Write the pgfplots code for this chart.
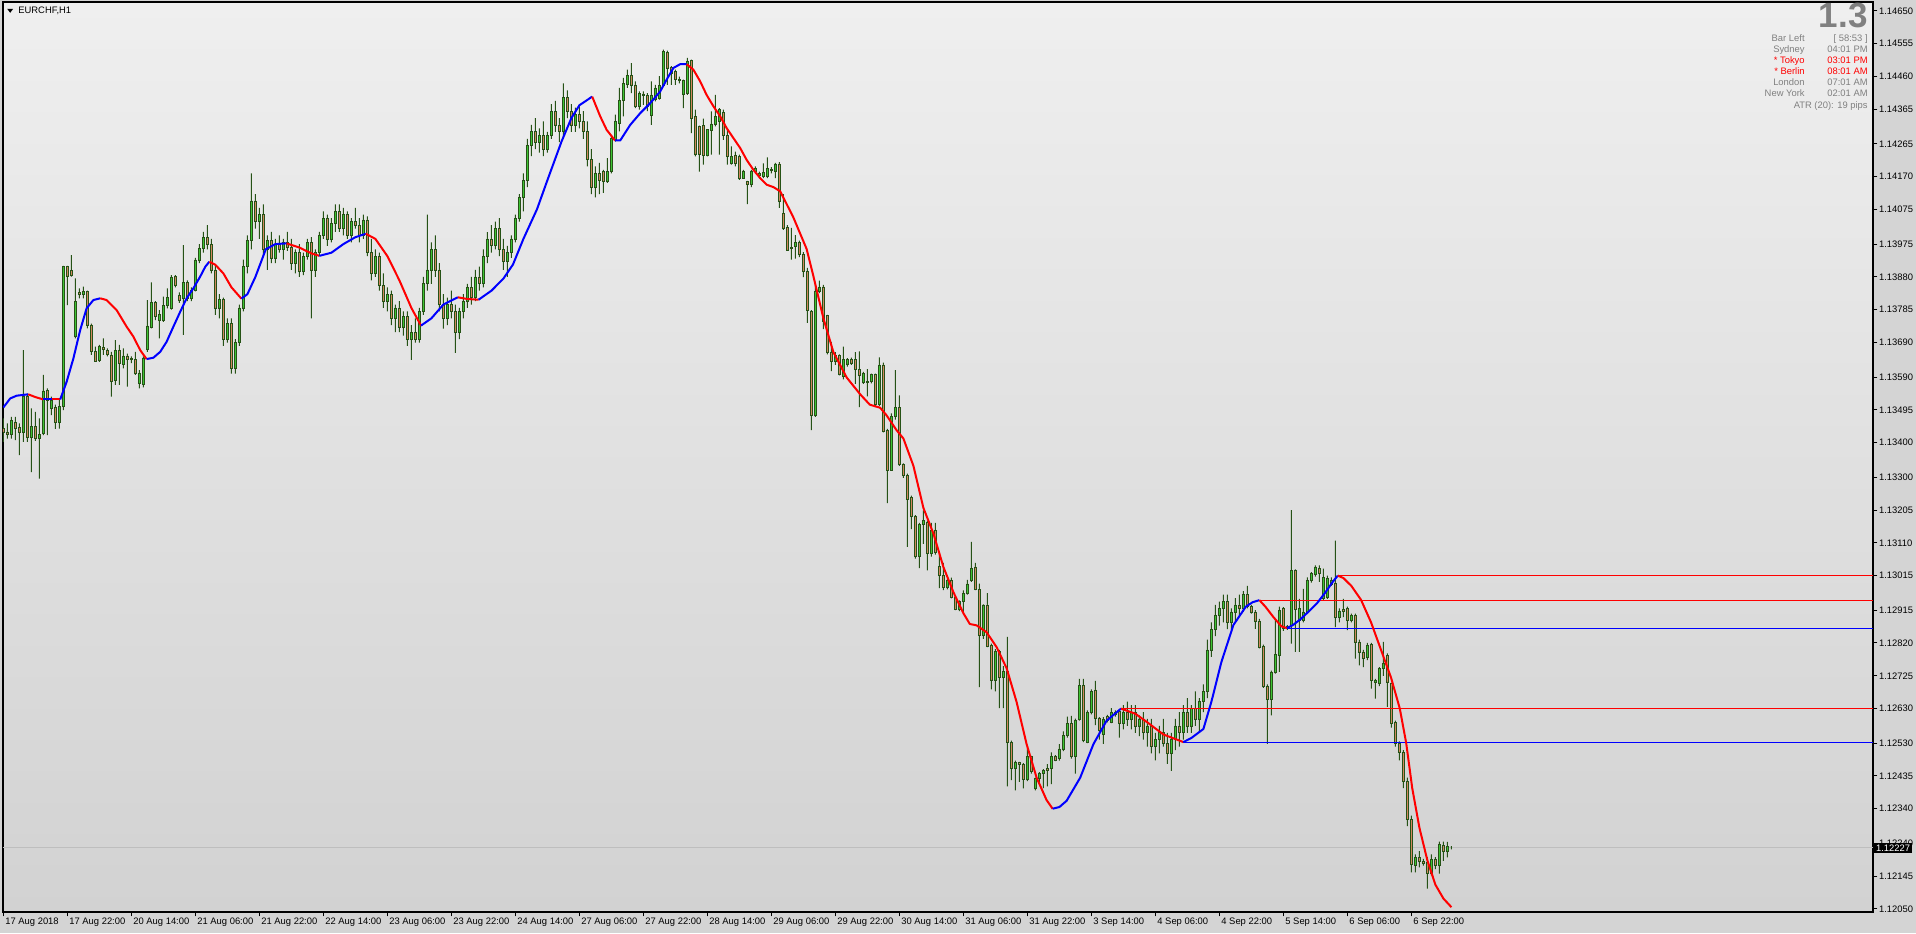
\documentclass[border=0pt]{standalone}
\usepackage{fontspec}
\setmainfont{Liberation Sans}
\usepackage{pgfplots}
\usepackage{pgfplotstable}
\pgfplotsset{compat=1.18}
\usetikzlibrary{shadings}
\definecolor{wick}{RGB}{38,82,22}
\definecolor{bull}{RGB}{62,196,52}
\definecolor{bear}{RGB}{210,135,95}
\definecolor{bgc}{RGB}{212,212,212}
\definecolor{mared}{RGB}{255,0,0}
\definecolor{mablue}{RGB}{0,0,255}
\definecolor{infogray}{RGB}{128,128,128}
\newcommand{\tf}{\fontsize{4.7}{5.6}\selectfont}

\pgfplotstableread{
i o h l c
0 1.13441 1.13470 1.13402 1.13431
1 1.13431 1.13456 1.13412 1.13424
2 1.13424 1.13475 1.13412 1.13465
3 1.13460 1.13475 1.13407 1.13441
4 1.13443 1.13456 1.13364 1.13429
5 1.13431 1.13668 1.13402 1.13533
6 1.13533 1.13542 1.13402 1.13415
7 1.13415 1.13499 1.13315 1.13446
8 1.13446 1.13489 1.13405 1.13412
9 1.13412 1.13470 1.13296 1.13425
10 1.13427 1.13596 1.13422 1.13550
11 1.13552 1.13557 1.13422 1.13523
12 1.13499 1.13533 1.13480 1.13523
13 1.13502 1.13510 1.13440 1.13458
14 1.13458 1.13528 1.13441 1.13504
15 1.13504 1.13912 1.13494 1.13910
16 1.13910 1.13912 1.13798 1.13883
17 1.13898 1.13943 1.13881 1.13885
18 1.13707 1.13876 1.13702 1.13810
19 1.13835 1.13847 1.13818 1.13829
20 1.13829 1.13852 1.13818 1.13837
21 1.13837 1.13840 1.13731 1.13741
22 1.13741 1.13745 1.13654 1.13665
23 1.13663 1.13678 1.13634 1.13636
24 1.13639 1.13683 1.13634 1.13678
25 1.13677 1.13702 1.13654 1.13671
26 1.13668 1.13673 1.13650 1.13656
27 1.13654 1.13663 1.13533 1.13578
28 1.13581 1.13697 1.13567 1.13668
29 1.13668 1.13683 1.13567 1.13629
30 1.13627 1.13673 1.13615 1.13651
31 1.13651 1.13658 1.13562 1.13642
32 1.13645 1.13650 1.13630 1.13641
33 1.13642 1.13663 1.13596 1.13600
34 1.13571 1.13610 1.13557 1.13602
35 1.13569 1.13650 1.13560 1.13644
36 1.13670 1.13813 1.13663 1.13738
37 1.13734 1.13864 1.13731 1.13805
38 1.13805 1.13810 1.13755 1.13765
39 1.13755 1.13784 1.13702 1.13771
40 1.13755 1.13823 1.13750 1.13798
41 1.13798 1.13847 1.13789 1.13820
42 1.13789 1.13885 1.13785 1.13878
43 1.13881 1.13885 1.13850 1.13856
44 1.13827 1.13835 1.13805 1.13811
45 1.13818 1.13972 1.13712 1.13864
46 1.13864 1.13870 1.13810 1.13818
47 1.13818 1.13850 1.13810 1.13842
48 1.13842 1.13935 1.13838 1.13929
49 1.13929 1.13975 1.13920 1.13963
50 1.13963 1.14010 1.13950 1.13995
51 1.13995 1.14030 1.13960 1.13975
52 1.13975 1.13990 1.13890 1.13900
53 1.13900 1.13915 1.13770 1.13790
54 1.13790 1.13830 1.13760 1.13815
55 1.13815 1.13820 1.13680 1.13700
56 1.13700 1.13760 1.13690 1.13745
57 1.13745 1.13760 1.13600 1.13615
58 1.13615 1.13700 1.13600 1.13690
59 1.13690 1.13800 1.13680 1.13790
60 1.13790 1.13930 1.13780 1.13910
61 1.13910 1.14000 1.13890 1.13985
62 1.13985 1.14180 1.13960 1.14100
63 1.14100 1.14120 1.14020 1.14040
64 1.14040 1.14080 1.13990 1.14060
65 1.14060 1.14090 1.13940 1.13960
66 1.13960 1.14000 1.13900 1.13985
67 1.13985 1.14010 1.13920 1.13935
68 1.13935 1.13990 1.13920 1.13975
69 1.13975 1.14000 1.13950 1.13960
70 1.13960 1.13990 1.13930 1.13980
71 1.13980 1.14010 1.13955 1.13965
72 1.13965 1.13990 1.13900 1.13920
73 1.13920 1.13960 1.13890 1.13950
74 1.13950 1.13975 1.13880 1.13895
75 1.13895 1.13950 1.13885 1.13940
76 1.13940 1.13990 1.13930 1.13980
77 1.13980 1.13995 1.13760 1.13900
78 1.13900 1.13960 1.13880 1.13950
79 1.13950 1.14010 1.13940 1.14000
80 1.14000 1.14070 1.13990 1.14050
81 1.14050 1.14060 1.13970 1.13990
82 1.13990 1.14050 1.13980 1.14035
83 1.14035 1.14090 1.14010 1.14070
84 1.14070 1.14090 1.14010 1.14020
85 1.14020 1.14080 1.14000 1.14060
86 1.14060 1.14070 1.13990 1.14000
87 1.14000 1.14050 1.13980 1.14040
88 1.14040 1.14080 1.14020 1.14030
89 1.14030 1.14050 1.13980 1.14000
90 1.14000 1.14060 1.13990 1.14045
91 1.14045 1.14055 1.13940 1.13950
92 1.13950 1.13990 1.13870 1.13890
93 1.13890 1.13960 1.13880 1.13940
94 1.13940 1.13950 1.13840 1.13855
95 1.13855 1.13890 1.13790 1.13810
96 1.13810 1.13850 1.13780 1.13830
97 1.13830 1.13840 1.13740 1.13760
98 1.13760 1.13800 1.13720 1.13790
99 1.13790 1.13810 1.13720 1.13735
100 1.13735 1.13780 1.13710 1.13765
101 1.13765 1.13780 1.13680 1.13700
102 1.13700 1.13740 1.13640 1.13720
103 1.13720 1.13760 1.13690 1.13700
104 1.13700 1.13790 1.13690 1.13780
105 1.13780 1.13880 1.13770 1.13860
106 1.13860 1.14060 1.13840 1.13900
107 1.13900 1.13980 1.13860 1.13960
108 1.13960 1.14000 1.13880 1.13900
109 1.13900 1.13920 1.13780 1.13800
110 1.13800 1.13830 1.13730 1.13760
111 1.13760 1.13820 1.13740 1.13800
112 1.13800 1.13840 1.13760 1.13780
113 1.13780 1.13800 1.13660 1.13720
114 1.13720 1.13790 1.13700 1.13780
115 1.13780 1.13830 1.13760 1.13810
116 1.13810 1.13860 1.13790 1.13850
117 1.13850 1.13880 1.13800 1.13820
118 1.13820 1.13900 1.13810 1.13880
119 1.13880 1.13910 1.13840 1.13860
120 1.13860 1.13960 1.13850 1.13940
121 1.13940 1.14010 1.13920 1.13990
122 1.13990 1.14030 1.13950 1.13970
123 1.13970 1.14040 1.13960 1.14020
124 1.14020 1.14050 1.13940 1.13960
125 1.13960 1.13990 1.13900 1.13925
126 1.13925 1.13970 1.13880 1.13950
127 1.13950 1.14000 1.13935 1.13990
128 1.13990 1.14060 1.13980 1.14050
129 1.14050 1.14120 1.14040 1.14110
130 1.14110 1.14180 1.14070 1.14160
131 1.14160 1.14280 1.14140 1.14260
132 1.14260 1.14320 1.14230 1.14300
133 1.14300 1.14340 1.14250 1.14270
134 1.14270 1.14310 1.14240 1.14290
135 1.14290 1.14330 1.14230 1.14250
136 1.14250 1.14300 1.14240 1.14290
137 1.14290 1.14380 1.14280 1.14360
138 1.14360 1.14390 1.14300 1.14320
139 1.14320 1.14340 1.14270 1.14300
140 1.14300 1.14440 1.14280 1.14400
141 1.14400 1.14420 1.14340 1.14360
142 1.14360 1.14380 1.14300 1.14320
143 1.14320 1.14370 1.14300 1.14350
144 1.14350 1.14380 1.14310 1.14330
145 1.14330 1.14360 1.14280 1.14300
146 1.14300 1.14330 1.14200 1.14220
147 1.14220 1.14250 1.14120 1.14140
148 1.14140 1.14200 1.14110 1.14180
149 1.14180 1.14210 1.14120 1.14160
150 1.14185 1.14190 1.14123 1.14156
151 1.14156 1.14224 1.14152 1.14185
152 1.14187 1.14287 1.14180 1.14282
153 1.14277 1.14350 1.14272 1.14330
154 1.14325 1.14427 1.14301 1.14390
155 1.14390 1.14456 1.14345 1.14441
156 1.14438 1.14480 1.14427 1.14463
157 1.14463 1.14499 1.14412 1.14436
158 1.14436 1.14446 1.14369 1.14374
159 1.14374 1.14417 1.14364 1.14412
160 1.14410 1.14417 1.14378 1.14407
161 1.14405 1.14412 1.14360 1.14374
162 1.14348 1.14446 1.14320 1.14407
163 1.14393 1.14436 1.14388 1.14427
164 1.14398 1.14461 1.14393 1.14434
165 1.14436 1.14538 1.14432 1.14533
166 1.14530 1.14535 1.14436 1.14485
167 1.14487 1.14490 1.14436 1.14470
168 1.14475 1.14480 1.14436 1.14451
169 1.14453 1.14460 1.14440 1.14448
170 1.14410 1.14451 1.14369 1.14448
171 1.14412 1.14514 1.14407 1.14504
172 1.14506 1.14509 1.14296 1.14340
173 1.14345 1.14364 1.14229 1.14236
174 1.14316 1.14318 1.14185 1.14236
175 1.14318 1.14338 1.14205 1.14231
176 1.14231 1.14308 1.14229 1.14306
177 1.14303 1.14359 1.14234 1.14323
178 1.14323 1.14407 1.14316 1.14345
179 1.14330 1.14369 1.14234 1.14364
180 1.14356 1.14364 1.14277 1.14289
181 1.14289 1.14306 1.14205 1.14229
182 1.14209 1.14258 1.14205 1.14229
183 1.14232 1.14243 1.14200 1.14209
184 1.14229 1.14234 1.14161 1.14166
185 1.14166 1.14190 1.14164 1.14187
186 1.14156 1.14158 1.14091 1.14147
187 1.14147 1.14190 1.14140 1.14185
188 1.14185 1.14200 1.14180 1.14195
189 1.14173 1.14185 1.14165 1.14180
190 1.14171 1.14209 1.14166 1.14182
191 1.14171 1.14226 1.14166 1.14195
192 1.14192 1.14198 1.14180 1.14188
193 1.14187 1.14210 1.14166 1.14207
194 1.14207 1.14212 1.14080 1.14100
195 1.14065 1.14120 1.14016 1.14022
196 1.14024 1.14030 1.13955 1.13958
197 1.13964 1.14022 1.13930 1.13966
198 1.13967 1.14001 1.13933 1.13979
199 1.13979 1.13985 1.13937 1.13945
200 1.13945 1.13952 1.13879 1.13896
201 1.13896 1.13906 1.13747 1.13784
202 1.13780 1.13784 1.13436 1.13479
203 1.13479 1.13857 1.13475 1.13839
204 1.13839 1.13869 1.13833 1.13851
205 1.13851 1.13857 1.13729 1.13751
206 1.13768 1.13770 1.13656 1.13662
207 1.13662 1.13692 1.13607 1.13635
208 1.13635 1.13662 1.13625 1.13652
209 1.13652 1.13656 1.13595 1.13599
210 1.13592 1.13678 1.13583 1.13640
211 1.13628 1.13645 1.13620 1.13640
212 1.13641 1.13646 1.13625 1.13631
213 1.13640 1.13662 1.13570 1.13613
214 1.13613 1.13664 1.13503 1.13595
215 1.13574 1.13605 1.13570 1.13601
216 1.13578 1.13613 1.13534 1.13576
217 1.13577 1.13600 1.13572 1.13597
218 1.13598 1.13600 1.13503 1.13510
219 1.13510 1.13647 1.13506 1.13625
220 1.13625 1.13632 1.13430 1.13433
221 1.13436 1.13440 1.13225 1.13320
222 1.13320 1.13485 1.13318 1.13477
223 1.13477 1.13610 1.13467 1.13503
224 1.13503 1.13537 1.13333 1.13336
225 1.13336 1.13340 1.13298 1.13306
226 1.13306 1.13310 1.13098 1.13235
227 1.13241 1.13247 1.13150 1.13186
228 1.13186 1.13190 1.13064 1.13070
229 1.13070 1.13168 1.13037 1.13164
230 1.13164 1.13204 1.13107 1.13174
231 1.13168 1.13174 1.13030 1.13079
232 1.13079 1.13168 1.13070 1.13147
233 1.13147 1.13168 1.13076 1.13083
234 1.13042 1.13076 1.12979 1.13015
235 1.13015 1.13052 1.12973 1.12981
236 1.12981 1.13005 1.12975 1.13001
237 1.13001 1.13009 1.12949 1.12952
238 1.12952 1.12955 1.12915 1.12918
239 1.12918 1.12943 1.12912 1.12940
240 1.12940 1.12972 1.12906 1.12964
241 1.12964 1.13003 1.12960 1.12991
242 1.13001 1.13113 1.12997 1.13037
243 1.13040 1.13052 1.12973 1.12976
244 1.12976 1.12992 1.12692 1.12842
245 1.12842 1.12932 1.12832 1.12930
246 1.12930 1.12964 1.12808 1.12810
247 1.12814 1.12818 1.12686 1.12713
248 1.12713 1.12802 1.12680 1.12796
249 1.12796 1.12800 1.12631 1.12720
250 1.12720 1.12753 1.12631 1.12737
251 1.12737 1.12838 1.12405 1.12533
252 1.12533 1.12537 1.12423 1.12457
253 1.12457 1.12479 1.12393 1.12473
254 1.12473 1.12476 1.12418 1.12469
255 1.12469 1.12472 1.12399 1.12426
256 1.12426 1.12515 1.12420 1.12491
257 1.12491 1.12493 1.12442 1.12448
258 1.12400 1.12430 1.12393 1.12427
259 1.12427 1.12446 1.12412 1.12442
260 1.12442 1.12455 1.12400 1.12452
261 1.12457 1.12469 1.12405 1.12452
262 1.12457 1.12503 1.12411 1.12491
263 1.12491 1.12495 1.12478 1.12481
264 1.12485 1.12527 1.12479 1.12513
265 1.12513 1.12564 1.12507 1.12552
266 1.12552 1.12607 1.12546 1.12588
267 1.12588 1.12609 1.12485 1.12491
268 1.12491 1.12601 1.12442 1.12595
269 1.12598 1.12716 1.12595 1.12696
270 1.12696 1.12716 1.12533 1.12537
271 1.12533 1.12625 1.12530 1.12619
272 1.12619 1.12686 1.12613 1.12680
273 1.12684 1.12710 1.12582 1.12603
274 1.12603 1.12605 1.12540 1.12567
275 1.12554 1.12605 1.12528 1.12598
276 1.12607 1.12612 1.12590 1.12595
277 1.12591 1.12631 1.12588 1.12619
278 1.12619 1.12625 1.12607 1.12614
279 1.12623 1.12627 1.12546 1.12588
280 1.12588 1.12640 1.12570 1.12620
281 1.12620 1.12650 1.12580 1.12600
282 1.12600 1.12640 1.12570 1.12620
283 1.12620 1.12640 1.12560 1.12580
284 1.12580 1.12610 1.12550 1.12600
285 1.12600 1.12620 1.12540 1.12560
286 1.12560 1.12600 1.12520 1.12580
287 1.12580 1.12600 1.12500 1.12520
288 1.12520 1.12560 1.12480 1.12540
289 1.12540 1.12580 1.12500 1.12560
290 1.12560 1.12600 1.12520 1.12530
291 1.12530 1.12560 1.12470 1.12500
292 1.12500 1.12560 1.12450 1.12540
293 1.12540 1.12600 1.12510 1.12580
294 1.12580 1.12620 1.12520 1.12560
295 1.12560 1.12640 1.12540 1.12620
296 1.12620 1.12660 1.12560 1.12580
297 1.12580 1.12640 1.12560 1.12630
298 1.12630 1.12680 1.12580 1.12600
299 1.12600 1.12660 1.12560 1.12650
300 1.12650 1.12700 1.12620 1.12680
301 1.12680 1.12830 1.12660 1.12800
302 1.12800 1.12880 1.12780 1.12860
303 1.12860 1.12930 1.12840 1.12900
304 1.12900 1.12940 1.12870 1.12920
305 1.12920 1.12960 1.12880 1.12940
306 1.12940 1.12960 1.12860 1.12880
307 1.12880 1.12920 1.12860 1.12910
308 1.12910 1.12950 1.12880 1.12930
309 1.12930 1.12960 1.12900 1.12920
310 1.12920 1.12970 1.12910 1.12960
311 1.12960 1.12985 1.12920 1.12925
312 1.12925 1.12930 1.12905 1.12910
313 1.12910 1.12915 1.12861 1.12884
314 1.12884 1.12890 1.12804 1.12807
315 1.12809 1.12815 1.12690 1.12693
316 1.12693 1.12700 1.12528 1.12657
317 1.12657 1.12740 1.12610 1.12736
318 1.12734 1.12890 1.12731 1.12787
319 1.12784 1.12925 1.12736 1.12915
320 1.12919 1.12924 1.12855 1.12863
321 1.12863 1.12872 1.12858 1.12868
322 1.12871 1.13205 1.12818 1.13031
323 1.13031 1.13033 1.12794 1.12918
324 1.12886 1.12948 1.12794 1.12920
325 1.12886 1.12977 1.12880 1.12910
326 1.12910 1.13010 1.12905 1.13002
327 1.13002 1.13025 1.12995 1.13021
328 1.13018 1.13045 1.13012 1.13040
329 1.13037 1.13045 1.12997 1.13021
330 1.12948 1.13035 1.12944 1.13011
331 1.12953 1.13015 1.12948 1.13008
332 1.12989 1.13010 1.12985 1.13002
333 1.12994 1.13116 1.12866 1.12893
334 1.12893 1.12920 1.12880 1.12913
335 1.12918 1.12948 1.12895 1.12911
336 1.12919 1.12925 1.12857 1.12886
337 1.12886 1.12905 1.12880 1.12900
338 1.12900 1.12905 1.12775 1.12823
339 1.12823 1.12830 1.12755 1.12794
340 1.12794 1.12800 1.12750 1.12775
341 1.12777 1.12820 1.12770 1.12813
342 1.12815 1.12820 1.12688 1.12712
343 1.12705 1.12716 1.12659 1.12712
344 1.12702 1.12750 1.12695 1.12746
345 1.12746 1.12823 1.12725 1.12762
346 1.12784 1.12790 1.12635 1.12707
347 1.12702 1.12705 1.12575 1.12586
348 1.12589 1.12595 1.12520 1.12528
349 1.12528 1.12535 1.12480 1.12504
350 1.12504 1.12510 1.12400 1.12420
351 1.12420 1.12430 1.12290 1.12310
352 1.12310 1.12320 1.12156 1.12180
353 1.12175 1.12208 1.12156 1.12199
354 1.12200 1.12217 1.12170 1.12187
355 1.12187 1.12195 1.12175 1.12182
356 1.12184 1.12200 1.12109 1.12152
357 1.12152 1.12208 1.12147 1.12194
358 1.12194 1.12200 1.12165 1.12175
359 1.12175 1.12245 1.12152 1.12236
360 1.12233 1.12245 1.12189 1.12216
361 1.12216 1.12244 1.12199 1.12231
362 1.12227 1.12232 1.12222 1.12227
}\candles

\pgfplotsset{common/.style={at={(1.5pt,10.5pt)}, anchor=south west, scale only axis,
  width=935pt, height=455pt, xmin=-0.1, xmax=467.4}}

\begin{document}
\begin{tikzpicture}
\path[use as bounding box] (0,0) rectangle (958pt,466.5pt);
\fill[bgc] (0,0) rectangle (958pt,466.5pt);
% axis A: frame, ticks, background
\begin{axis}[common, ymin=1.12041, ymax=1.14676,
  axis background/.style={top color={rgb,255:red,239;green,239;blue,239}, bottom color={rgb,255:red,210;green,210;blue,210}},
  axis line style={black, line width=0.6pt},
  tick align=outside, major tick length=2.2pt,
  tick style={black, line width=0.5pt},
  xtick pos=left, ytick pos=right, yticklabel pos=right,
  xtick={0,16,...,352},
  xticklabels={17 Aug 2018, 17 Aug 22:00, 20 Aug 14:00, 21 Aug 06:00, 21 Aug 22:00, 22 Aug 14:00, 23 Aug 06:00, 23 Aug 22:00, 24 Aug 14:00, 27 Aug 06:00, 27 Aug 22:00, 28 Aug 14:00, 29 Aug 06:00, 29 Aug 22:00, 30 Aug 14:00, 31 Aug 06:00, 31 Aug 22:00, 3 Sep 14:00, 4 Sep 06:00, 4 Sep 22:00, 5 Sep 14:00, 6 Sep 06:00, 6 Sep 22:00},
  ytick={1.14650,1.14555,1.14460,1.14365,1.14265,1.14170,1.14075,1.13975,1.13880,1.13785,1.13690,1.13590,1.13495,1.13400,1.13300,1.13205,1.13110,1.13015,1.12915,1.12820,1.12725,1.12630,1.12530,1.12435,1.12340,1.12240,1.12145,1.12050},
  yticklabels={1.14650,1.14555,1.14460,1.14365,1.14265,1.14170,1.14075,1.13975,1.13880,1.13785,1.13690,1.13590,1.13495,1.13400,1.13300,1.13205,1.13110,1.13015,1.12915,1.12820,1.12725,1.12630,1.12530,1.12435,1.12340,1.12240,1.12145,1.12050},
  xticklabel style={font=\tf, anchor=north west, inner sep=0.6pt, xshift=0.2pt},
  yticklabel style={font=\tf, anchor=west, inner sep=0.6pt},
]
\addplot[color={rgb,255:red,190;green,190;blue,190}, line width=0.5pt] coordinates {(-0.1,1.12227) (467.4,1.12227)};
\end{axis}
% axis B: candles, stacked from 1.12 upward: low, lower wick, body, upper wick
\begin{axis}[common, ymin=0.00041, ymax=0.02676, hide axis, ybar stacked]
\addplot[draw=none, fill=none, bar width=0.5pt] table[x=i, y expr={\thisrow{l}-1.12}] {\candles};
\addplot[draw=none, fill=wick, bar width=0.55pt] table[x=i, y expr={min(\thisrow{o},\thisrow{c})-\thisrow{l}}] {\candles};
\addplot[draw=wick, fill=bull, line width=0.35pt, bar width=1.15pt] table[x=i, y expr={max(\thisrow{c}-\thisrow{o},0)}] {\candles};
\addplot[draw=wick, fill=bear, line width=0.35pt, bar width=1.15pt] table[x=i, y expr={max(\thisrow{o}-\thisrow{c},0)}] {\candles};
\addplot[draw=none, fill=wick, bar width=0.55pt] table[x=i, y expr={\thisrow{h}-max(\thisrow{o},\thisrow{c})}] {\candles};
\end{axis}
% axis C: levels and moving average
\begin{axis}[common, ymin=1.12041, ymax=1.14676, hide axis, clip mode=individual]
\addplot[mared, line width=0.5pt] coordinates {(333.6,1.13015) (467.4,1.13015)};
\addplot[mared, line width=0.5pt] coordinates {(314,1.12944) (467.4,1.12944)};
\addplot[mablue, line width=0.5pt] coordinates {(320.9,1.12863) (467.4,1.12863)};
\addplot[mared, line width=0.5pt] coordinates {(279.4,1.12630) (467.4,1.12630)};
\addplot[mablue, line width=0.5pt] coordinates {(295,1.12533) (467.4,1.12533)};
\pgfplotsset{ma/.style={line width=1pt, line join=round}}
\addplot[mablue, ma] coordinates {(0,1.13502) (1.7,1.13528) (3.3,1.13536) (6.2,1.13540)};
\addplot[mared, ma] coordinates {(6.2,1.13540) (8,1.13532) (10,1.13525)};
\addplot[mablue, ma] coordinates {(10,1.13525) (12.1,1.13525)};
\addplot[mared, ma] coordinates {(12.1,1.13525) (14.2,1.13525)};
\addplot[mablue, ma] coordinates {(14.2,1.13525) (15.8,1.13576) (17.5,1.13644) (19.2,1.13726) (20.8,1.13789) (22.5,1.13813) (24.2,1.13818)};
\addplot[mared, ma] coordinates {(24.2,1.13818) (25.8,1.13813) (28.3,1.13784) (30.8,1.13736) (32.5,1.13707) (34.2,1.13668) (35.8,1.13642)};
\addplot[mablue, ma] coordinates {(35.8,1.13642) (37.5,1.13646) (39.2,1.13663) (40.8,1.13692) (42.5,1.13736) (44.2,1.13779) (45.8,1.13818) (47.5,1.13847) (49.2,1.13881) (50.5,1.13910) (51.5,1.13924)};
\addplot[mared, ma] coordinates {(51.5,1.13924) (53,1.13915) (55,1.13890) (57,1.13850) (59.5,1.13817)};
\addplot[mablue, ma] coordinates {(59.5,1.13817) (61,1.13830) (63,1.13880) (65.6,1.13960) (68,1.13975) (70.8,1.13977)};
\addplot[mared, ma] coordinates {(70.8,1.13977) (74,1.13965) (77,1.13948) (79,1.13941)};
\addplot[mablue, ma] coordinates {(79,1.13941) (82,1.13950) (85,1.13975) (88,1.13995) (90.6,1.14005)};
\addplot[mared, ma] coordinates {(90.6,1.14005) (93,1.13990) (96,1.13940) (99,1.13870) (102,1.13790) (104.4,1.13739)};
\addplot[mablue, ma] coordinates {(104.4,1.13739) (107,1.13760) (110,1.13800) (113.6,1.13821)};
\addplot[mared, ma] coordinates {(113.6,1.13821) (116,1.13816) (118.8,1.13814)};
\addplot[mablue, ma] coordinates {(118.8,1.13814) (122,1.13840) (125,1.13875) (127.4,1.13916) (130,1.13990) (133.4,1.14076) (136,1.14160) (139.5,1.14271) (142,1.14340) (144,1.14377) (147.2,1.14402)};
\addplot[mared, ma] coordinates {(147.2,1.14402) (149.2,1.14345) (150.8,1.14306) (152.9,1.14275)};
\addplot[mablue, ma] coordinates {(152.9,1.14275) (154.2,1.14275) (156.7,1.14320) (159.2,1.14354) (161.7,1.14383) (164.2,1.14417) (165.8,1.14451) (167.5,1.14485) (169.2,1.14496) (170.8,1.14496)};
\addplot[mared, ma] coordinates {(170.8,1.14496) (172.5,1.14480) (174.2,1.14446) (175.8,1.14407) (177.5,1.14374) (179.2,1.14345) (180.8,1.14311) (182.5,1.14282) (184.2,1.14253) (185.8,1.14219) (187.5,1.14190) (189.2,1.14166) (190.8,1.14147) (192.5,1.14140) (194.2,1.14128) (197.5,1.14052) (200.8,1.13961) (202.5,1.13882) (205,1.13760) (207.5,1.13662) (210.8,1.13589) (214.2,1.13540) (216.6,1.13510) (219.2,1.13501) (220.8,1.13479) (223.3,1.13436) (225,1.13412) (227.5,1.13333) (230,1.13211) (232.5,1.13137) (235,1.13040) (237.5,1.12967) (240,1.12906) (241.6,1.12875) (243.3,1.12871) (245.8,1.12851) (248.3,1.12808) (250.8,1.12747) (253.3,1.12649) (255.8,1.12527) (258.3,1.12430) (260.8,1.12365) (262.3,1.12340)};
\addplot[mablue, ma] coordinates {(262.3,1.12340) (264,1.12345) (265.8,1.12363) (269.2,1.12430) (272.5,1.12527) (275.8,1.12595) (279.4,1.12630)};
\addplot[mared, ma] coordinates {(279.4,1.12630) (283,1.12615) (286,1.12590) (290,1.12555) (295,1.12533)};
\addplot[mablue, ma] coordinates {(295,1.12533) (297,1.12545) (300,1.12571) (302,1.12650) (304.5,1.12765) (307.5,1.12872) (310.6,1.12925) (312.3,1.12938) (314,1.12944)};
\addplot[mared, ma] coordinates {(314,1.12944) (315.5,1.12925) (317.5,1.12895) (319.5,1.12868) (320.9,1.12863)};
\addplot[mablue, ma] coordinates {(320.9,1.12863) (322.4,1.12872) (324.4,1.12890) (326.4,1.12912) (328.4,1.12935) (330.4,1.12965) (332.4,1.12998) (333.6,1.13015)};
\addplot[mared, ma] coordinates {(333.6,1.13015) (335,1.13008) (337,1.12985) (339.4,1.12945) (341.9,1.12880) (344.4,1.12800) (346.9,1.12720) (349.1,1.12630) (350.7,1.12530) (352.2,1.12400) (354,1.12285) (356,1.12190) (358,1.12120) (360,1.12080) (362,1.12055)};
\node[fill=black, text=white, font=\tf, anchor=west, inner sep=0.9pt, xshift=0.4pt] at (axis cs:467.4,1.12227) {1.12227};
\end{axis}
% title
\fill[black] (3.6pt,462.1pt) -- (6.6pt,462.1pt) -- (5.1pt,460.1pt) -- cycle;
\node[anchor=base west, inner sep=0pt, font=\tf] at (9pt,459.6pt) {EURCHF,H1};
% info panel
\node[anchor=base east, inner sep=0pt, text=infogray, font=\fontsize{17.5}{18}\selectfont\bfseries] at (934pt,452.5pt) {1.3};
\begin{scope}[every node/.style={inner sep=0pt, font=\tf}]
\node[anchor=base east, text=infogray] at (902.5pt,445.75pt) {Bar Left};
\node[anchor=base east, text=infogray] at (934pt,445.75pt) {[ 58:53 ]};
\node[anchor=base east, text=infogray] at (902.5pt,440.2pt) {Sydney};
\node[anchor=base east, text=infogray] at (934pt,440.2pt) {04:01 PM};
\node[anchor=base east, text=mared] at (902.5pt,434.65pt) {* Tokyo};
\node[anchor=base east, text=mared] at (934pt,434.65pt) {03:01 PM};
\node[anchor=base east, text=mared] at (902.5pt,429.1pt) {* Berlin};
\node[anchor=base east, text=mared] at (934pt,429.1pt) {08:01 AM};
\node[anchor=base east, text=infogray] at (902.5pt,423.55pt) {London};
\node[anchor=base east, text=infogray] at (934pt,423.55pt) {07:01 AM};
\node[anchor=base east, text=infogray] at (902.5pt,418.0pt) {New York};
\node[anchor=base east, text=infogray] at (934pt,418.0pt) {02:01 AM};
\node[anchor=base east, text=infogray] at (934pt,412.45pt) {ATR (20): 19 pips};
\end{scope}
\end{tikzpicture}
\end{document}
